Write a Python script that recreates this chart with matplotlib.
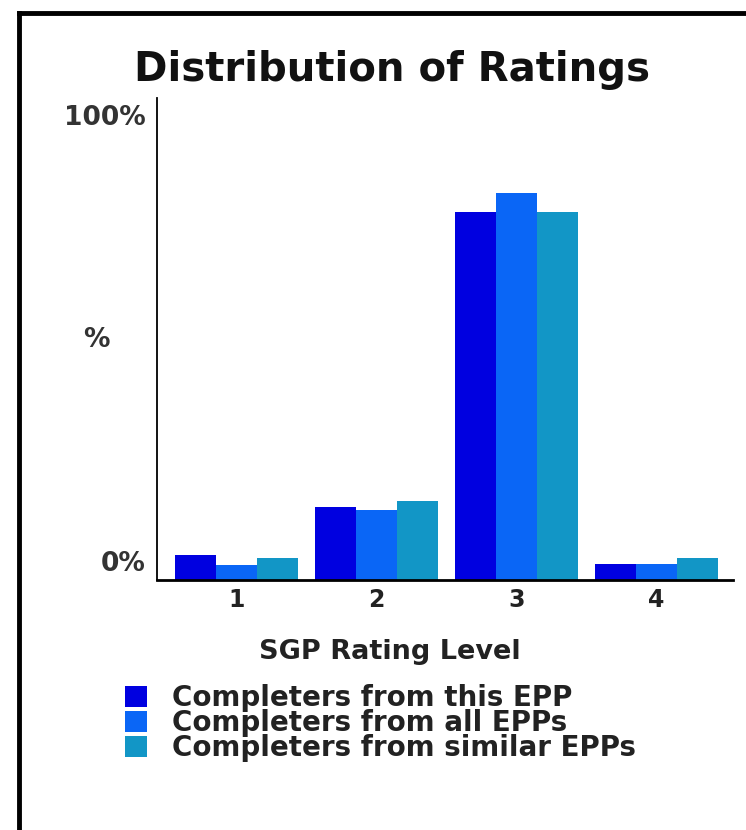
import matplotlib
matplotlib.use("Agg")
import matplotlib.pyplot as plt
from matplotlib.lines import Line2D
import numpy as np

categories = ["1", "2", "3", "4"]
series_names = ["Completers from this EPP", "Completers from all EPPs", "Completers from similar EPPs"]
this_epp = [5.2, 15.1, 76.3, 3.3]
all_epps = [3.1, 14.5, 80.3, 3.3]
similar_epps = [4.6, 16.4, 76.3, 4.6]
colors = ["#0000E0", "#0A66F6", "#1296C6"]
y_labels = ["0%", "%", "100%"]

W, H = 746, 830
fig = plt.figure(figsize=(W / 100, H / 100), dpi=100)
fig.patch.set_facecolor("white")

ax = fig.add_axes([157 / W, 1 - 580 / H, (733 - 157) / W, (580 - 98) / H])
x = np.arange(1, len(categories) + 1)
bw = 0.293
series = [this_epp, all_epps, similar_epps]
bars = []
for i, (vals, name, c) in enumerate(zip(series, series_names, colors)):
    b = ax.bar(x + (i - 1) * bw, vals, width=bw, color=c, label=name, linewidth=0)
    bars.append(b)

ax.set_xlim(0.429, 4.55)
ax.set_ylim(0, 100)
for s in ["top", "right"]:
    ax.spines[s].set_visible(False)
ax.spines["left"].set_linewidth(1.3)
ax.spines["bottom"].set_linewidth(2.0)
ax.set_yticks([])
ax.set_xticks(x)
ax.set_xticklabels(categories, fontsize=17, fontweight="bold", color="#222222")
ax.tick_params(axis="x", length=0, pad=6)

# y-axis labels (top, middle, bottom)
tf = dict(fontsize=19, fontweight="bold", color="#333333", ha="right", va="center")
fig.text(146 / W, 1 - 564 / H, y_labels[0], **tf)
fig.text(110 / W, 1 - 340 / H, y_labels[1], **tf)
fig.text(146 / W, 1 - 118 / H, y_labels[2], **tf)

fig.text(392 / W, 1 - 70 / H, "Distribution of Ratings", fontsize=29, fontweight="bold",
         color="#111111", ha="center", va="center")
fig.text(390 / W, 1 - 652 / H, "SGP Rating Level", fontsize=19.5, fontweight="bold",
         color="#222222", ha="center", va="center")

leg = fig.legend(handles=bars, labels=series_names, loc="upper left",
                 bbox_to_anchor=(125 / W, 1 - 684 / H), frameon=False,
                 fontsize=20, handlelength=0.8, handleheight=0.8, handletextpad=0.9,
                 labelspacing=-0.1, borderpad=0, borderaxespad=0)
for t in leg.get_texts():
    t.set_fontweight("bold")
    t.set_color("#222222")

# frame border (top and left visible)
fig.add_artist(Line2D([19 / W, 19 / W], [0, 1 - 13 / H], transform=fig.transFigure,
                      color="black", linewidth=3.5, solid_capstyle="projecting"))
fig.add_artist(Line2D([19 / W, 1], [1 - 13 / H, 1 - 13 / H], transform=fig.transFigure,
                      color="black", linewidth=3.5, solid_capstyle="projecting"))

fig.savefig("out.png", dpi=100, facecolor="white")
